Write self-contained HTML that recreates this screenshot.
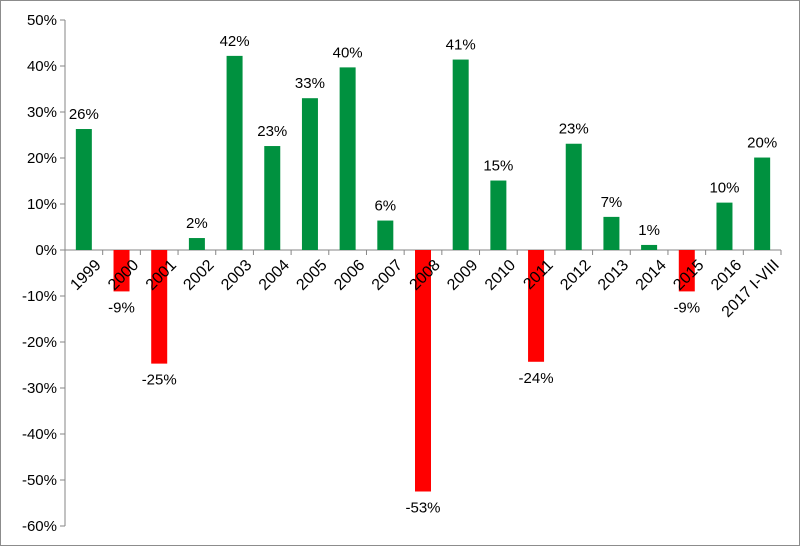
<!DOCTYPE html>
<html><head><meta charset="utf-8"><style>
body{margin:0;background:#fff}
svg{display:block;font-family:"Liberation Sans",sans-serif}
</style></head><body>
<svg id="chart" width="800" height="546" viewBox="0 0 800 546" xmlns="http://www.w3.org/2000/svg">
<rect x="0.5" y="0.5" width="799" height="545" fill="#fff" stroke="#8c8c8c"/>
<g id="axes"></g><g id="bars"></g><g id="labels"></g>
</svg>
<script>
const categories=["1999","2000","2001","2002","2003","2004","2005","2006","2007","2008","2009","2010","2011","2012","2013","2014","2015","2016","2017 I-VIII"];
const values=[26.3,-9,-24.7,2.6,42.2,22.6,33,39.7,6.4,-52.5,41.4,15.1,-24.3,23.1,7.2,1.1,-9,10.3,20.1];
const valueLabels=["26%","-9%","-25%","2%","42%","23%","33%","40%","6%","-53%","41%","15%","-24%","23%","7%","1%","-9%","10%","20%"];
const yTicks=[50,40,30,20,10,0,-10,-20,-30,-40,-50,-60];
const NS="http://www.w3.org/2000/svg";
const x0=65,x1=781,yTop=20,yBot=526,vMax=50,vMin=-60;
const bw=(x1-x0)/categories.length;
const y=v=>yTop+(vMax-v)*(yBot-yTop)/(vMax-vMin);
const xc=i=>x0+bw*(i+0.5);
function mk(t,a,p){const e=document.createElementNS(NS,t);for(const k in a)e.setAttribute(k,a[k]);p.appendChild(e);return e;}
const axes=document.getElementById('axes'),bars=document.getElementById('bars'),labels=document.getElementById('labels');
yTicks.forEach(t=>{
 const l=mk('line',{x1:x0-5,x2:x0,y1:y(t),y2:y(t),stroke:'#868686'},axes);
 
 
 const tx=mk('text',{x:x0-8,y:y(t)+5,'text-anchor':'end','font-size':15,fill:'#000'},axes);
 tx.textContent=t+'%';
 
 
});
const ya=mk('line',{x1:x0,x2:x0,y1:yTop,y2:yBot,stroke:'#868686'},axes);


categories.forEach((c,i)=>{
 const v=values[i];
 const r=mk('rect',{x:xc(i)-8,width:16,y:Math.min(y(v),y(0)),height:Math.abs(y(v)-y(0)),fill:v>=0?'#00913f':'#ff0000'},bars);
 
 
 const vl=mk('text',{x:xc(i),y:v>=0?y(v)-10:y(v)+21,'text-anchor':'middle','font-size':15,fill:'#000'},labels);
 vl.textContent=valueLabels[i];
 
 
 const tk=mk('line',{x1:x0+bw*(i+1),x2:x0+bw*(i+1),y1:y(0),y2:y(0)+5,stroke:'#868686'},axes);
 
 
 const cx=xc(i)+10,cy=y(0)+8;
 const cl=mk('text',{x:cx,y:cy,'text-anchor':'end','font-size':16,fill:'#000',transform:`rotate(-45 ${cx} ${cy})`,dy:'0.7em'},labels);
 cl.textContent=c;
 
 
});
const xa=mk('line',{x1:x0,x2:x1,y1:y(0),y2:y(0),stroke:'#868686'},axes);


</script>
</body></html>
